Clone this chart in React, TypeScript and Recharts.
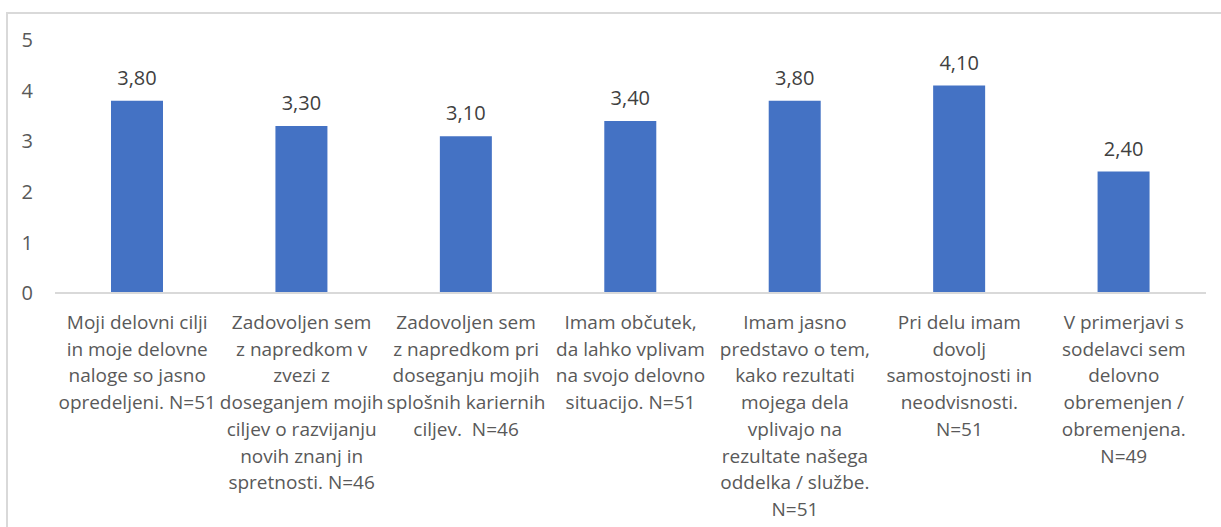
import React from "react";
import { BarChart, Bar, XAxis, YAxis, LabelList } from "recharts";

const categories: string[] = [
  "Moji delovni cilji\nin moje delovne\nnaloge so jasno\nopredeljeni. N=51",
  "Zadovoljen sem\nz napredkom v\nzvezi z\ndoseganjem mojih\nciljev o razvijanju\nnovih znanj in\nspretnosti. N=46",
  "Zadovoljen sem\nz napredkom pri\ndoseganju mojih\nsplošnih kariernih\nciljev.  N=46",
  "Imam občutek,\nda lahko vplivam\nna svojo delovno\nsituacijo. N=51",
  "Imam jasno\npredstavo o tem,\nkako rezultati\nmojega dela\nvplivajo na\nrezultate našega\noddelka / službe.\nN=51",
  "Pri delu imam\ndovolj\nsamostojnosti in\nneodvisnosti.\nN=51",
  "V primerjavi s\nsodelavci sem\ndelovno\nobremenjen /\nobremenjena.\nN=49",
];
const values: number[] = [3.8, 3.3, 3.1, 3.4, 3.8, 4.1, 2.4];
const yTicks: number[] = [0, 1, 2, 3, 4, 5];

const data = categories.map((c, i) => ({ name: c, value: values[i] }));

const FONT = "'Open Sans', 'Noto Sans', sans-serif";
const TEXT = "#595959";

const CategoryTick = (props: any) => {
  const { x, y, payload } = props;
  const lines = String(payload.value).split("\n");
  return (
    <text
      x={x}
      y={y + 36}
      textAnchor="middle"
      fill={TEXT}
      fontFamily={FONT}
      fontSize={19}
    >
      {lines.map((l, i) => (
        <tspan key={i} x={x} dy={i === 0 ? 0 : 26.7} style={{ whiteSpace: "pre" }}>
          {l}
        </tspan>
      ))}
    </text>
  );
};

export default function App() {
  return (
    <div style={{ position: "absolute", left: 0, top: 0, width: 1221, height: 527, background: "#fff", overflow: "hidden" }}>
      <div
        style={{
          position: "absolute",
          left: 6,
          top: 12,
          width: 1300,
          height: 600,
          borderTop: "2px solid #d9d9d9",
          borderLeft: "2px solid #d9d9d9",
        }}
      />
      <div style={{ position: "absolute", left: 0, top: 0 }}>
        <BarChart
          width={1221}
          height={527}
          data={data}
          margin={{ top: 40, right: 15, bottom: 0, left: 0 }}
        >
          <XAxis
            dataKey="name"
            interval={0}
            height={234}
            tickLine={false}
            tickSize={0}
            tickMargin={0}
            axisLine={{ stroke: "#d9d9d9", strokeWidth: 2 }}
            tick={<CategoryTick />}
          />
          <YAxis
            width={55}
            domain={[0, 5]}
            ticks={yTicks}
            axisLine={false}
            tickLine={false}
            tickSize={0}
            tickMargin={22}
            tick={{ fill: TEXT, fontSize: 20, fontFamily: FONT }}
          />
          <Bar dataKey="value" fill="#4472C4" barSize={52} isAnimationActive={false}>
            <LabelList
              dataKey="value"
              position="top"
              offset={16}
              fill="#404040"
              fontSize={20}
              fontFamily={FONT}
              formatter={(v: any) => Number(v).toFixed(2).replace(".", ",")}
            />
          </Bar>
        </BarChart>
      </div>
    </div>
  );
}
